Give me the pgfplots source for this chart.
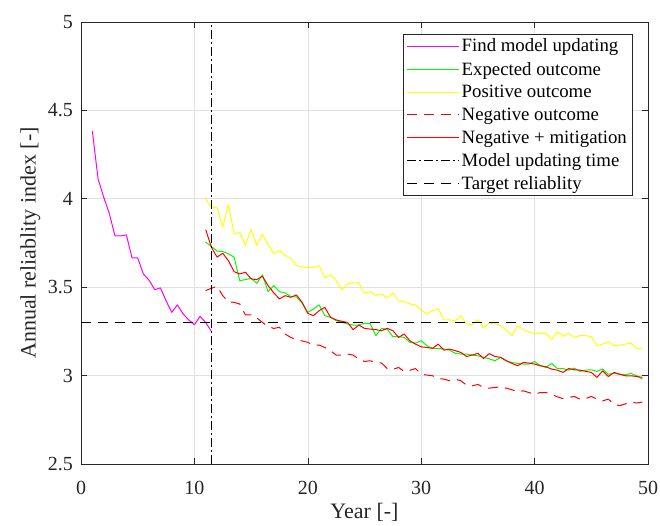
\documentclass[border=0pt]{standalone}
\usepackage{fontspec}
\setmainfont{Liberation Serif}
\usepackage{pgfplots}
\usepackage{pgfplotstable}
\pgfplotsset{compat=1.18}

\definecolor{axgray}{rgb}{0.15,0.15,0.15}
\definecolor{gridgray}{rgb}{0.88,0.88,0.88}
\definecolor{linemagenta}{RGB}{255,0,255}
\definecolor{linegreen}{RGB}{0,255,0}
\definecolor{lineyellow}{RGB}{255,255,0}
\definecolor{linered}{RGB}{255,0,0}

\pgfplotstableread{
x y
1 4.384
1.5 4.114
2 4.01
2.5 3.915
3 3.79
3.5 3.79
4 3.796
4.5 3.666
5 3.666
5.5 3.575
6 3.54
6.5 3.486
7 3.496
7.5 3.424
8 3.358
8.5 3.40
9 3.349
9.5 3.315
10 3.288
10.5 3.335
11 3.30
11.5 3.25
}\findmodel

\pgfplotstableread{
x y
11 3.755
11.5 3.73
12 3.704
12.5 3.702
13 3.689
13.5 3.67
14 3.537
14.5 3.543
15 3.55
15.5 3.522
16 3.57
16.5 3.475
17 3.509
17.5 3.475
18 3.468
18.5 3.447
19 3.445
19.5 3.41
20 3.358
20.5 3.377
21 3.40
21.5 3.339
22 3.33
22.5 3.311
23 3.301
23.5 3.292
24 3.286
24.5 3.286
25 3.296
25.5 3.294
26 3.226
26.5 3.267
27 3.263
27.5 3.22
28 3.22
28.5 3.216
29 3.188
29.5 3.184
30 3.197
30.5 3.169
31 3.154
31.5 3.154
32 3.15
32.5 3.144
33 3.126
33.5 3.122
34 3.122
34.5 3.116
35 3.112
35.5 3.103
36 3.095
36.5 3.084
37 3.103
37.5 3.084
38 3.074
38.5 3.069
39 3.065
39.5 3.065
40 3.08
40.5 3.056
41 3.046
41.5 3.069
42 3.04
42.5 3.04
43 3.031
43.5 3.042
44 3.024
44.5 3.031
45 3.033
45.5 3.024
46 3.037
46.5 3.008
47 3.012
47.5 3.008
48 3.005
48.5 3.012
49 2.999
49.5 2.98
}\expected

\pgfplotstableread{
x y
11 3.999
11.5 3.95
12 3.95
12.5 3.84
13 3.97
13.5 3.80
14 3.81
14.5 3.736
15 3.827
15.5 3.736
16 3.80
16.5 3.74
17 3.689
17.5 3.706
18 3.68
18.5 3.664
19 3.622
19.5 3.615
20 3.611
20.5 3.611
21 3.622
21.5 3.556
22 3.57
22.5 3.537
23 3.485
23.5 3.519
24 3.524
24.5 3.524
25 3.466
25.5 3.475
26 3.452
26.5 3.462
27 3.439
27.5 3.468
28 3.424
28.5 3.418
29 3.405
29.5 3.40
30 3.371
30.5 3.348
31 3.367
31.5 3.377
32 3.316
32.5 3.315
33 3.311
33.5 3.339
34 3.292
34.5 3.288
35 3.316
35.5 3.269
36 3.296
36.5 3.296
37 3.282
37.5 3.26
38 3.226
38.5 3.282
39 3.26
39.5 3.248
40 3.235
40.5 3.239
41 3.239
41.5 3.203
42 3.25
42.5 3.222
43 3.239
43.5 3.216
44 3.226
44.5 3.226
45 3.22
45.5 3.169
46 3.178
46.5 3.192
47 3.169
47.5 3.173
48 3.178
48.5 3.184
49 3.154
49.5 3.154
}\positive

\pgfplotstableread{
x y
11 3.481
11.5 3.494
12 3.505
12.5 3.452
13 3.418
13.5 3.414
14 3.405
14.5 3.343
15 3.343
15.5 3.326
16 3.301
16.5 3.277
17 3.267
17.5 3.273
18 3.235
18.5 3.216
19 3.203
19.5 3.196
20 3.188
20.5 3.173
21 3.173
21.5 3.159
22 3.141
22.5 3.116
23 3.116
23.5 3.122
24 3.116
24.5 3.093
25 3.08
25.5 3.084
26 3.074
26.5 3.071
27 3.04
27.5 3.035
28 3.046
28.5 3.024
29 3.03
29.5 3.04
30 3.008
30.5 3.003
31 2.999
31.5 2.984
32 2.98
32.5 2.971
33 2.98
33.5 2.971
34 2.946
34.5 2.942
35 2.95
35.5 2.933
36 2.929
36.5 2.933
37 2.936
37.5 2.929
38 2.92
38.5 2.908
39 2.914
39.5 2.904
40 2.895
40.5 2.904
41 2.904
41.5 2.895
42 2.88
42.5 2.87
43 2.876
43.5 2.882
44 2.867
44.5 2.87
45 2.882
45.5 2.867
46 2.857
46.5 2.867
47 2.838
47.5 2.83
48 2.84
48.5 2.85
49 2.845
49.5 2.85
}\negative

\pgfplotstableread{
x y
11 3.825
11.5 3.726
12 3.67
12.5 3.692
13 3.65
13.5 3.588
14 3.575
14.5 3.585
15 3.547
15.5 3.543
16 3.562
16.5 3.509
17 3.468
17.5 3.434
18 3.452
18.5 3.443
19 3.456
19.5 3.414
20 3.352
20.5 3.339
21 3.367
21.5 3.386
22 3.33
22.5 3.315
23 3.307
23.5 3.301
24 3.26
24.5 3.286
25 3.267
25.5 3.263
26 3.26
26.5 3.254
27 3.267
27.5 3.254
28 3.216
28.5 3.235
29 3.197
29.5 3.178
30 3.163
30.5 3.159
31 3.154
31.5 3.178
32 3.144
32.5 3.15
33 3.141
33.5 3.131
34 3.108
34.5 3.116
35 3.126
35.5 3.097
36 3.124
36.5 3.108
37 3.103
37.5 3.084
38 3.069
38.5 3.056
39 3.074
39.5 3.071
40 3.065
40.5 3.056
41 3.05
41.5 3.037
42 3.031
42.5 3.018
43 3.04
43.5 3.033
44 3.031
44.5 3.024
45 3.018
45.5 2.99
46 3.027
46.5 2.995
47 3.018
47.5 3.008
48 2.999
48.5 2.999
49 2.995
49.5 2.99
}\mitigation

\begin{document}
\begin{tikzpicture}
\begin{axis}[
  scale only axis,
  width=567pt, height=442pt,
  xmin=0, xmax=50, ymin=2.5, ymax=5,
  xtick={0,10,20,30,40,50},
  ytick={2.5,3,3.5,4,4.5,5},
  yticklabels={2.5,3,3.5,4,4.5,5},
  tick align=inside,
  major tick length=6pt,
  tick style={axgray, line width=0.6pt},
  axis line style={axgray, line width=0.8pt},
  grid=major,
  major grid style={gridgray, line width=0.6pt},
  /pgf/number format/assume math mode=true,
  tick label style={font=\fontsize{20}{24}\selectfont, text=axgray},
  xticklabel style={inner sep=0pt, anchor=north, yshift=-17pt},
  yticklabel style={inner sep=0pt, anchor=east, xshift=-8pt},
  xlabel={Year [-]},
  ylabel={Annual reliablity index [-]},
  label style={font=\fontsize{22}{26}\selectfont, text=axgray},
  xlabel style={at={(axis description cs:0.5,-0.124)}, anchor=base},
  ylabel style={at={(axis description cs:-0.08,0.5)}, anchor=base},
  legend cell align=left,
  legend style={
    at={(axis description cs:0.972,0.9729)}, anchor=north east,
    draw=axgray, line width=0.6pt, fill=white,
    font=\fontsize{18.8}{22}\selectfont,
    inner xsep=3pt, inner ysep=2pt,
    row sep=3.7pt,
    nodes={inner xsep=2pt, inner ysep=2.5pt},
  },
  legend image code/.code={\draw[#1, line width=1.1pt] (0pt,0pt) -- (52pt,0pt);},
]
\addplot[linemagenta, line width=1pt, line join=round] table {\findmodel};
\addlegendentry{Find model updating}
\addplot[linegreen, line width=1pt, line join=round] table {\expected};
\addlegendentry{Expected outcome}
\addplot[lineyellow, line width=1pt, line join=round] table {\positive};
\addlegendentry{Positive outcome}
\addplot[linered, line width=1pt, dash pattern=on 10pt off 7pt, line join=round] table {\negative};
\addlegendentry{Negative outcome}
\addplot[linered, line width=1pt, line join=round] table {\mitigation};
\addlegendentry{Negative + mitigation}
\addplot[black, line width=1pt, dash pattern=on 9pt off 3pt on 2pt off 3pt] coordinates {(11.5,2.5) (11.5,5)};
\addlegendentry{Model updating time}
\addplot[black, line width=1pt, dash pattern=on 10pt off 7pt] coordinates {(0,3.3) (50,3.3)};
\addlegendentry{Target reliablity}
\end{axis}
\path (current axis.south west) ++(-81pt,-60pt);
\path (current axis.north east) ++(12pt,22pt);
\end{tikzpicture}
\end{document}
